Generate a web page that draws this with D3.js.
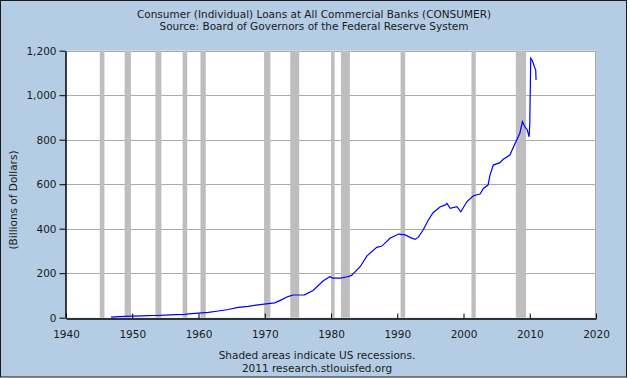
<!DOCTYPE html>
<html>
<head>
<meta charset="utf-8">
<script src="https://cdn.jsdelivr.net/npm/d3@7"></script>
<style>
    body { margin: 0; background: #ffffff; }
    text { font-family: "DejaVu Sans", Verdana, sans-serif; fill: #1a1a1a; }
</style>
</head>
<body>
<div id="canvas"></div>
<script>
"use strict"

/*Size of the canvas*/
let svgWidth = 630;
let svgHeight = 378;

/*Plot area edges*/
let leftMargin = 66
let rightEdge = 596
let topEdge = 50.7
let bottomEdge = 317.7

/*Series: date (decimal year) and value in billions of dollars*/
let dates = [1946.8, 1948.0, 1949.0, 1950.0, 1951.5, 1952.3, 1953.5, 1955.0, 1956.5, 1958.0,
    1958.5, 1960.0, 1961.5, 1963.0, 1964.5, 1966.0, 1967.5, 1969.0, 1970.5, 1971.5,
    1972.5, 1973.5, 1974.3, 1976.0, 1977.3, 1978.8, 1979.8, 1980.3, 1981.4, 1982.5,
    1983.1, 1984.4, 1985.4, 1986.9, 1987.7, 1988.9, 1990.2, 1991.2, 1992.0, 1992.7,
    1993.2, 1993.9, 1994.7, 1995.4, 1996.5, 1997.2, 1997.5, 1998.0, 1999.0, 1999.6,
    2000.5, 2001.5, 2002.5, 2003.0, 2003.7, 2004.0, 2004.5, 2005.5, 2006.0, 2007.0,
    2007.8, 2008.5, 2008.9, 2009.3, 2009.6, 2009.9, 2010.0, 2010.15, 2010.4, 2010.7,
    2010.9, 2010.95];
let loans = [3, 5, 6, 7, 8, 9, 10, 12, 14, 15,
    17, 21, 24, 30, 37, 46, 51, 58, 63, 67,
    80, 95, 102, 103, 122, 165, 184, 178, 178, 184,
    190, 229, 277, 316, 322, 357, 376, 372, 360, 352,
    362, 394, 439, 472, 499, 506, 514, 492, 499, 476,
    521, 548, 556, 581, 596, 641, 686, 697, 712, 731,
    784, 829, 881, 856, 846, 813, 866, 1166, 1155, 1128,
    1113, 1068];

/*US recessions (start and end, decimal years)*/
let recessionStart = [1945.1, 1948.85, 1953.5, 1957.6, 1960.3, 1969.9, 1973.85, 1980.0, 1981.5, 1990.5, 2001.2, 2007.9];
let recessionEnd = [1945.8, 1949.8, 1954.4, 1958.3, 1961.1, 1970.85, 1975.2, 1980.55, 1982.85, 1991.2, 2001.85, 2009.45];

/*Tick values*/
let xTicks = [1940, 1950, 1960, 1970, 1980, 1990, 2000, 2010, 2020];
let yTicks = [0, 200, 400, 600, 800, 1000, 1200];

let svg = d3.select("#canvas")
    .append("svg")
    .attr("width", svgWidth)
    .attr("height", svgHeight);

/*Light blue background with a dark border*/
svg.append("rect")
    .attr("x", 0.5)
    .attr("y", 0.5)
    .attr("width", 626)
    .attr("height", 376.5)
    .attr("fill", "#b4cde4")
    .attr("stroke", "#1a1a1a");

let xScale = d3.scaleLinear()
    .domain([1940, 2020])
    .range([leftMargin, rightEdge]);

let yScale = d3.scaleLinear()
    .domain([0, 1200])
    .range([bottomEdge, topEdge]);

/*White plot area*/
svg.append("rect")
    .attr("x", leftMargin)
    .attr("y", topEdge)
    .attr("width", rightEdge - leftMargin)
    .attr("height", bottomEdge - topEdge)
    .attr("fill", "white");

/*Horizontal grid lines*/
svg.append("g")
    .selectAll("line")
    .data(yTicks.slice(1))
    .join("line")
    .attr("x1", leftMargin)
    .attr("x2", rightEdge)
    .attr("y1", d => Math.round(yScale(d)) + 0.5)
    .attr("y2", d => Math.round(yScale(d)) + 0.5)
    .attr("stroke", "#aaaaaa");

/*Recession shading*/
svg.append("g")
    .selectAll("rect")
    .data(recessionStart)
    .join("rect")
    .attr("x", d => xScale(d))
    .attr("width", (d, i) => xScale(recessionEnd[i]) - xScale(d))
    .attr("y", topEdge)
    .attr("height", bottomEdge - topEdge)
    .attr("fill", "#bebebe");

/*Right edge of the plot*/
svg.append("line")
    .attr("x1", rightEdge - 0.5)
    .attr("x2", rightEdge - 0.5)
    .attr("y1", topEdge)
    .attr("y2", bottomEdge)
    .attr("stroke", "#aaaaaa");

/*The data line*/
let line = d3.line()
    .x((d, i) => xScale(dates[i]))
    .y(d => yScale(d));

svg.append("path")
    .datum(loans)
    .attr("d", line)
    .attr("fill", "none")
    .attr("stroke", "#0000ff")
    .attr("stroke-width", 1.2);

/*Axes*/
let xAxis = d3.axisBottom(xScale)
    .tickValues(xTicks)
    .tickFormat(d3.format("d"))
    .tickSizeInner(-5)
    .tickSizeOuter(0)
    .tickPadding(12);

let gx = svg.append("g")
    .attr("transform", "translate(0," + (Math.round(bottomEdge) + 0.5) + ")")
    .call(xAxis);

let yAxis = d3.axisLeft(yScale)
    .tickValues(yTicks)
    .tickFormat(d3.format(","))
    .tickSizeInner(6)
    .tickSizeOuter(0)
    .tickPadding(3);

let gy = svg.append("g")
    .attr("transform", "translate(" + (leftMargin - 0.5) + ",0)")
    .call(yAxis);

svg.selectAll(".domain").attr("stroke", "#000").attr("stroke-width", 1.5);
svg.selectAll(".tick line").attr("stroke", "#000");
svg.selectAll(".tick text")
    .attr("font-size", "10.5px")
    .attr("font-family", "DejaVu Sans, Verdana, sans-serif")
    .attr("fill", "#1a1a1a");

/*Titles*/
svg.append("text")
    .attr("x", 314)
    .attr("y", 17.5)
    .style("text-anchor", "middle")
    .style("font-size", "10.5px")
    .text("Consumer (Individual) Loans at All Commercial Banks (CONSUMER)");

svg.append("text")
    .attr("x", 314)
    .attr("y", 29.5)
    .style("text-anchor", "middle")
    .style("font-size", "10.5px")
    .text("Source: Board of Governors of the Federal Reserve System");

/*Y axis label*/
svg.append("text")
    .attr("transform", "translate(17,200) rotate(-90)")
    .style("text-anchor", "middle")
    .style("font-size", "10.5px")
    .text("(Billions of Dollars)");

/*Footer*/
svg.append("text")
    .attr("x", 317)
    .attr("y", 358.5)
    .style("text-anchor", "middle")
    .style("font-size", "10.5px")
    .text("Shaded areas indicate US recessions.");

svg.append("text")
    .attr("x", 317)
    .attr("y", 372)
    .style("text-anchor", "middle")
    .style("font-size", "10.5px")
    .text("2011 research.stlouisfed.org");
</script>
</body>
</html>
